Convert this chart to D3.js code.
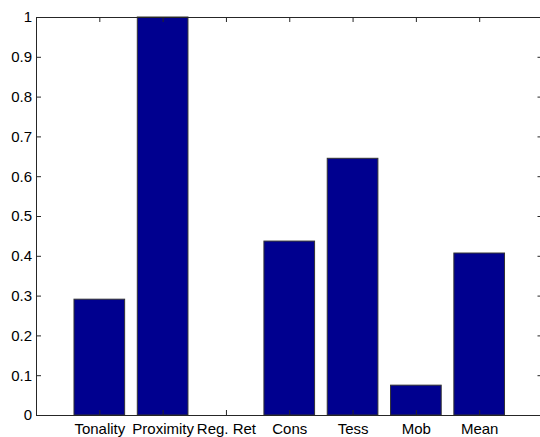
<!DOCTYPE html>
<html>
<head>
<meta charset="utf-8">
<script src="https://cdn.jsdelivr.net/npm/d3@7"></script>
<style>
html,body{margin:0;padding:0;background:#fff;overflow:hidden;}
svg{display:block;}
text{font-family:Arial,"Liberation Sans",sans-serif;}
</style>
</head>
<body>
<svg id="chart" width="540" height="437"></svg>
<script>
const categories = ["Tonality","Proximity","Reg. Ret","Cons","Tess","Mob","Mean"];
const values = [0.291, 1.0, 0.0, 0.437, 0.645, 0.075, 0.407];
const yTicks = [0,0.1,0.2,0.3,0.4,0.5,0.6,0.7,0.8,0.9,1];
const yTickLabels = ["0","0.1","0.2","0.3","0.4","0.5","0.6","0.7","0.8","0.9","1"];

const svg = d3.select("#chart");
const L = 36, R = 542.5, T = 17, B = 415;
const x = d3.scaleLinear().domain([0, 8]).range([L, R]);
const y = d3.scaleLinear().domain([0, 1]).range([B, T]);
const barW = 0.8;

// bars
svg.append("g").selectAll("rect").data(values).join("rect")
  .attr("x", (d,i) => x(i + 1 - barW/2))
  .attr("width", (d,i) => x(i + 1 + barW/2) - x(i + 1 - barW/2))
  .attr("y", d => y(d))
  .attr("height", d => y(0) - y(d))
  .attr("fill", "#00008f")
  .attr("stroke", "#333")
  .attr("stroke-width", 1);

const tickLen = 5;
const axisColor = "#262626";
const fontSize = "15px";
// left axis
const yAxis = d3.axisLeft(y).tickValues(yTicks).tickFormat((d,i) => yTickLabels[i])
  .tickSizeInner(-tickLen).tickSizeOuter(0).tickPadding(4);
const gy = svg.append("g").attr("transform", `translate(${L},0)`).call(yAxis);
// right axis (ticks only)
const yAxisR = d3.axisRight(y).tickValues(yTicks).tickFormat("").tickSizeInner(-tickLen).tickSizeOuter(0);
const gyr = svg.append("g").attr("transform", `translate(${R},0)`).call(yAxisR);
// bottom axis
const xAxis = d3.axisBottom(x).tickValues(d3.range(1, 8)).tickFormat((d) => categories[d-1])
  .tickSizeInner(-tickLen).tickSizeOuter(0).tickPadding(8);
const gx = svg.append("g").attr("transform", `translate(0,${B})`).call(xAxis);
// top axis
const xAxisT = d3.axisTop(x).tickValues(d3.range(1, 8)).tickFormat("").tickSizeInner(-tickLen).tickSizeOuter(0);
const gxt = svg.append("g").attr("transform", `translate(0,${T})`).call(xAxisT);

[gy, gyr, gx, gxt].forEach(g => {
  g.selectAll("path.domain").attr("stroke", axisColor).attr("stroke-width", 1);
  g.selectAll(".tick line").attr("stroke", axisColor);
  g.selectAll("text").attr("fill", "#000").style("font-size", fontSize)
   .style("font-family", "Arial, 'Liberation Sans', sans-serif");
});
gx.selectAll("text").attr("dy", "0.71em");
</script>
</body>
</html>
